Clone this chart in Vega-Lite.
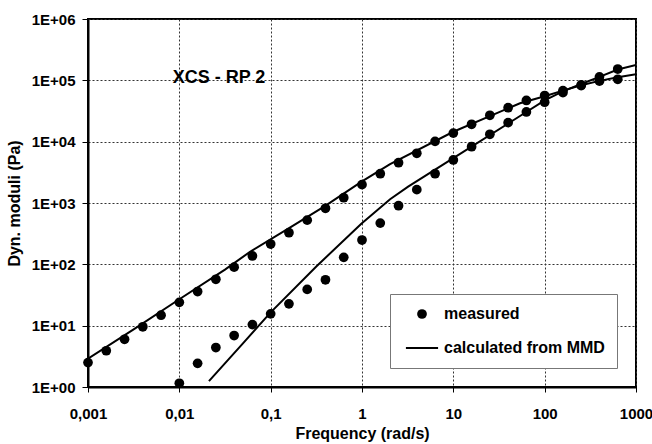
{
  "$schema": "https://vega.github.io/schema/vega-lite/v6.json",
  "autosize": "none",
  "width": 548,
  "height": 368,
  "padding": {"left": 88, "top": 19, "right": 16, "bottom": 57},
  "background": "white",
  "config": {
    "font": "Liberation Sans",
    "view": {"stroke": "black", "strokeWidth": 2},
    "axis": {
      "grid": true,
      "gridColor": "#333333",
      "gridDash": [2, 2],
      "gridWidth": 1,
      "domainColor": "black",
      "domainWidth": 2,
      "tickColor": "black",
      "tickWidth": 1,
      "labelColor": "black",
      "labelFont": "Liberation Sans",
      "labelFontWeight": "bold",
      "labelFontSize": 15,
      "labelOverlap": false,
      "labelFlush": false,
      "titleColor": "black",
      "titleFont": "Liberation Sans",
      "titleFontWeight": "bold",
      "titleFontSize": 16
    }
  },
  "datasets": {
    "measured": [
      {"freq": 0.001, "modulus": 2.5, "series": "G''"},
      {"freq": 0.001585, "modulus": 3.9, "series": "G''"},
      {"freq": 0.002512, "modulus": 6.0, "series": "G''"},
      {"freq": 0.003981, "modulus": 9.6, "series": "G''"},
      {"freq": 0.00631, "modulus": 14.8, "series": "G''"},
      {"freq": 0.01, "modulus": 24, "series": "G''"},
      {"freq": 0.01585, "modulus": 36, "series": "G''"},
      {"freq": 0.02512, "modulus": 57, "series": "G''"},
      {"freq": 0.03981, "modulus": 90, "series": "G''"},
      {"freq": 0.0631, "modulus": 137, "series": "G''"},
      {"freq": 0.1, "modulus": 214, "series": "G''"},
      {"freq": 0.1585, "modulus": 328, "series": "G''"},
      {"freq": 0.2512, "modulus": 525, "series": "G''"},
      {"freq": 0.3981, "modulus": 820, "series": "G''"},
      {"freq": 0.631, "modulus": 1220, "series": "G''"},
      {"freq": 1, "modulus": 1990, "series": "G''"},
      {"freq": 1.585, "modulus": 3000, "series": "G''"},
      {"freq": 2.512, "modulus": 4540, "series": "G''"},
      {"freq": 3.981, "modulus": 6460, "series": "G''"},
      {"freq": 6.31, "modulus": 10100, "series": "G''"},
      {"freq": 10, "modulus": 13800, "series": "G''"},
      {"freq": 15.85, "modulus": 19200, "series": "G''"},
      {"freq": 25.12, "modulus": 26900, "series": "G''"},
      {"freq": 39.81, "modulus": 35800, "series": "G''"},
      {"freq": 63.1, "modulus": 47000, "series": "G''"},
      {"freq": 100, "modulus": 56500, "series": "G''"},
      {"freq": 158.5, "modulus": 68000, "series": "G''"},
      {"freq": 251.2, "modulus": 82000, "series": "G''"},
      {"freq": 398.1, "modulus": 97000, "series": "G''"},
      {"freq": 631, "modulus": 104000, "series": "G''"},
      {"freq": 0.01, "modulus": 1.15, "series": "G'"},
      {"freq": 0.01585, "modulus": 2.43, "series": "G'"},
      {"freq": 0.02512, "modulus": 4.4, "series": "G'"},
      {"freq": 0.03981, "modulus": 6.9, "series": "G'"},
      {"freq": 0.0631, "modulus": 10.4, "series": "G'"},
      {"freq": 0.1, "modulus": 15.6, "series": "G'"},
      {"freq": 0.1585, "modulus": 22.7, "series": "G'"},
      {"freq": 0.2512, "modulus": 39, "series": "G'"},
      {"freq": 0.3981, "modulus": 56, "series": "G'"},
      {"freq": 0.631, "modulus": 130, "series": "G'"},
      {"freq": 1, "modulus": 249, "series": "G'"},
      {"freq": 1.585, "modulus": 470, "series": "G'"},
      {"freq": 2.512, "modulus": 904, "series": "G'"},
      {"freq": 3.981, "modulus": 1650, "series": "G'"},
      {"freq": 6.31, "modulus": 3000, "series": "G'"},
      {"freq": 10, "modulus": 5030, "series": "G'"},
      {"freq": 15.85, "modulus": 8280, "series": "G'"},
      {"freq": 25.12, "modulus": 13200, "series": "G'"},
      {"freq": 39.81, "modulus": 20400, "series": "G'"},
      {"freq": 63.1, "modulus": 30500, "series": "G'"},
      {"freq": 100, "modulus": 44000, "series": "G'"},
      {"freq": 158.5, "modulus": 63000, "series": "G'"},
      {"freq": 251.2, "modulus": 84000, "series": "G'"},
      {"freq": 398.1, "modulus": 114000, "series": "G'"},
      {"freq": 631, "modulus": 153000, "series": "G'"}
    ],
    "calculated": [
      {"freq": 0.001, "modulus": 2.9, "series": "G''"},
      {"freq": 0.00316, "modulus": 8.7, "series": "G''"},
      {"freq": 0.01, "modulus": 27, "series": "G''"},
      {"freq": 0.0316, "modulus": 82, "series": "G''"},
      {"freq": 0.0594, "modulus": 160, "series": "G''"},
      {"freq": 0.159, "modulus": 390, "series": "G''"},
      {"freq": 0.396, "modulus": 900, "series": "G''"},
      {"freq": 1, "modulus": 2250, "series": "G''"},
      {"freq": 2.03, "modulus": 4300, "series": "G''"},
      {"freq": 10, "modulus": 14500, "series": "G''"},
      {"freq": 53.7, "modulus": 42300, "series": "G''"},
      {"freq": 100, "modulus": 55000, "series": "G''"},
      {"freq": 158, "modulus": 68000, "series": "G''"},
      {"freq": 251, "modulus": 83000, "series": "G''"},
      {"freq": 398, "modulus": 98000, "series": "G''"},
      {"freq": 631, "modulus": 112000, "series": "G''"},
      {"freq": 1000, "modulus": 126000, "series": "G''"},
      {"freq": 0.0211, "modulus": 1.25, "series": "G'"},
      {"freq": 0.05, "modulus": 5.2, "series": "G'"},
      {"freq": 0.1, "modulus": 16.5, "series": "G'"},
      {"freq": 0.318, "modulus": 93, "series": "G'"},
      {"freq": 0.983, "modulus": 460, "series": "G'"},
      {"freq": 2.03, "modulus": 1150, "series": "G'"},
      {"freq": 3.2, "modulus": 1850, "series": "G'"},
      {"freq": 10, "modulus": 5400, "series": "G'"},
      {"freq": 53.7, "modulus": 26200, "series": "G'"},
      {"freq": 100, "modulus": 47000, "series": "G'"},
      {"freq": 158, "modulus": 66000, "series": "G'"},
      {"freq": 251, "modulus": 87000, "series": "G'"},
      {"freq": 398, "modulus": 114000, "series": "G'"},
      {"freq": 631, "modulus": 150000, "series": "G'"},
      {"freq": 1000, "modulus": 178000, "series": "G'"}
    ],
    "annotation": [
      {"freq": 0.0272, "modulus": 108000, "label": "XCS - RP 2"}
    ]
  },
  "encoding": {
    "x": {
      "field": "freq",
      "type": "quantitative",
      "scale": {"type": "log", "domain": [0.001, 1000], "nice": false},
      "axis": {
        "title": "Frequency (rad/s)",
        "values": [0.001, 0.01, 0.1, 1, 10, 100, 1000],
        "labelExpr": "replace(toString(datum.value), '.', ',')",
        "tickSize": 5,
        "labelPadding": 14,
        "titlePadding": 4
      }
    },
    "y": {
      "field": "modulus",
      "type": "quantitative",
      "scale": {"type": "log", "domain": [1, 1000000], "nice": false},
      "axis": {
        "title": "Dyn. moduli (Pa)",
        "values": [1, 10, 100, 1000, 10000, 100000, 1000000],
        "labelExpr": "'1E+0' + round(log(datum.value) / LN10)",
        "tickSize": 6,
        "labelPadding": 7,
        "titlePadding": 9
      }
    }
  },
  "layer": [
    {
      "data": {"name": "calculated"},
      "mark": {"type": "line", "color": "black", "strokeWidth": 2, "clip": true},
      "encoding": {"detail": {"field": "series", "type": "nominal"}}
    },
    {
      "data": {"name": "measured"},
      "mark": {"type": "point", "filled": true, "color": "black", "opacity": 1, "size": 95},
      "encoding": {
        "shape": {
          "datum": "measured",
          "type": "nominal",
          "scale": {
            "domain": ["measured", "calculated from MMD"],
            "range": ["circle", "M-3.3,-0.2H3.3V0.2H-3.3Z"]
          },
          "legend": {
            "title": null,
            "orient": "none",
            "legendX": 302,
            "legendY": 275,
            "padding": 12,
            "strokeColor": "#777777",
            "fillColor": "white",
            "symbolFillColor": "black",
            "symbolSize": 95,
            "symbolOffset": 12,
            "labelOffset": 14,
            "labelFontSize": 16,
            "labelFontWeight": "bold",
            "labelColor": "black",
            "labelFont": "Liberation Sans",
            "labelLimit": 400,
            "rowPadding": 18,
            "encode": {
              "legend": {
                "strokeDash": {"value": [2, 2]}
              }
            }
          }
        }
      }
    },
    {
      "data": {"name": "annotation"},
      "mark": {"type": "text", "fontSize": 18, "fontWeight": "bold", "font": "Liberation Sans", "color": "black", "baseline": "middle", "align": "center"},
      "encoding": {"text": {"field": "label"}}
    }
  ]
}
